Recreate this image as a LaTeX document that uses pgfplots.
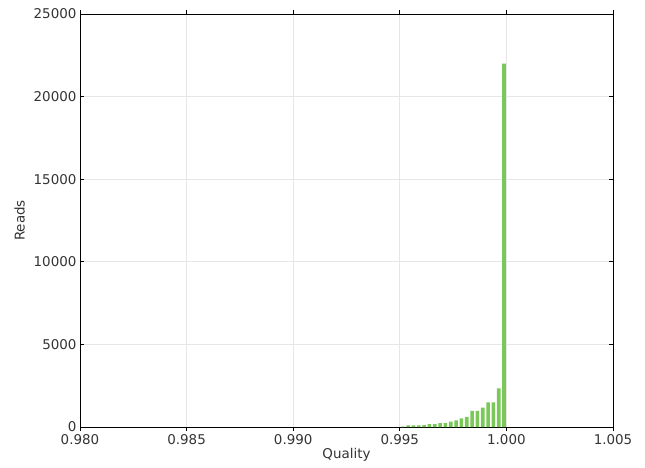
\documentclass[border=0pt]{standalone}
\usepackage{pgfplots}
\pgfplotsset{compat=1.18}
\usepackage{fontspec}
\setmainfont{DejaVu Sans}
\definecolor{bargreen}{RGB}{122,200,88}
\definecolor{gridgray}{RGB}{230,230,230}
\definecolor{txt}{RGB}{51,51,51}

\begin{document}
\begin{tikzpicture}[x=1bp,y=1bp]
\begin{axis}[
  scale only axis,
  width=533bp, height=413bp,
  xmin=0.980, xmax=1.005,
  ymin=0, ymax=25000,
  xtick={0.980,0.985,0.990,0.995,1.000,1.005},
  ytick={0,5000,10000,15000,20000,25000},
  xticklabel style={/pgf/number format/.cd,fixed,fixed zerofill,precision=3},
  yticklabel style={/pgf/number format/.cd,1000 sep={}},
  scaled x ticks=false, scaled y ticks=false,
  /pgf/number format/assume math mode=true,
  tick label style={font=\fontsize{13.5}{16}\selectfont, text=txt},
  label style={font=\fontsize{13.5}{16}\selectfont, text=txt},
  xlabel={Quality}, ylabel={Reads},
  xlabel style={yshift=3bp},
  ylabel style={yshift=2bp},
  grid=major,
  major grid style={gridgray, line width=0.8bp},
  axis line style={black, line width=0.8bp},
  tick style={black, line width=0.8bp},
  major tick length=4bp,
  tick align=inside,
  ybar, bar width=0.00017,
]
\addplot[fill=bargreen, draw=none] coordinates {
  (0.99989,22000) (0.99964,2340) (0.99939,1490) (0.99914,1490)
  (0.99889,1170) (0.99864,970) (0.99839,970) (0.99814,605)
  (0.99789,525) (0.99764,400) (0.99739,320) (0.99714,240)
  (0.99689,240) (0.99664,180) (0.99639,180) (0.99614,120)
  (0.99589,100) (0.99564,100) (0.99539,100) (0.99514,20)
};
\end{axis}
\useasboundingbox ([xshift=-80bp,yshift=-41bp]current axis.south west) rectangle ([xshift=32bp,yshift=14bp]current axis.north east);
\end{tikzpicture}
\end{document}
